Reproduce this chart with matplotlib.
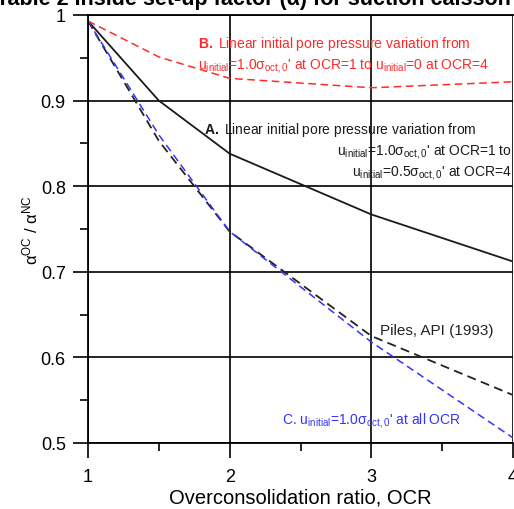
import numpy as np
import matplotlib
matplotlib.use("Agg")
import matplotlib.pyplot as plt

plt.rcParams['font.family'] = ['Liberation Sans', 'DejaVu Sans']
plt.rcParams['mathtext.fontset'] = 'custom'
plt.rcParams['mathtext.rm'] = 'Liberation Sans'
plt.rcParams['mathtext.it'] = 'Liberation Sans:italic'
plt.rcParams['mathtext.bf'] = 'Liberation Sans:bold'
plt.rcParams['mathtext.default'] = 'regular'

# data
ocr = [1, 1.5, 2, 3, 4]
case_a = [0.993, 0.900, 0.838, 0.767, 0.712]   # A, solid black
case_b = [0.993, 0.951, 0.926, 0.915, 0.922]   # B, red dashed
case_c = [0.993, 0.860, 0.747, 0.618, 0.506]   # C, blue dashed
piles_api = [0.993, 0.853, 0.747, 0.625, 0.556]  # API (1993), black dashed

fig = plt.figure(figsize=(5.14, 5.10), dpi=100)
ax = fig.add_axes([88/514, 1-444/510, 425/514, 428/510])

ax.plot(ocr, case_a, color='#1a1a1a', lw=1.3)
ax.plot(ocr, piles_api, color='#222222', lw=1.3, dashes=(5, 3))
ax.plot(ocr, case_c, color='#3333ff', lw=1.1, dashes=(5, 3))
ax.plot(ocr, case_b, color='#ff2a2a', lw=1.1, dashes=(5, 3))

ax.set_xlim(1, 4)
ax.set_ylim(0.5, 1)
ax.set_xticks([1, 2, 3, 4])
ax.set_xticks([1.5, 2.5, 3.5], minor=True)
ax.set_yticks([0.5, 0.6, 0.7, 0.8, 0.9, 1.0])
ax.set_yticklabels(['0.5', '0.6', '0.7', '0.8', '0.9', '1'])
ax.set_yticks([0.55, 0.65, 0.75, 0.85, 0.95], minor=True)
ax.grid(True, which='major', color='black', lw=1.2)
ax.tick_params(which='major', direction='out', length=11, width=1.2, labelsize=13, pad=5)
ax.tick_params(which='minor', direction='out', length=6, width=1.2)
ax.tick_params(axis='x', pad=7)
for s in ['left', 'bottom', 'top']:
    ax.spines[s].set_linewidth(1.3)
ax.spines['right'].set_visible(False)

ax.set_xlabel('Overconsolidation ratio, OCR', fontsize=14.5, labelpad=2)
ax.set_ylabel(r'$\alpha^{OC}$ / $\alpha^{NC}$', fontsize=12, labelpad=0)

fs = 10
ax.text(1.78, 0.967, r'$\mathbf{B.}$ Linear initial pore pressure variation from',
        color='#ff2a2a', fontsize=fs, va='center', clip_on=False)
ax.text(1.78, 0.942, r"u$_{initial}$=1.0σ$_{oct,0}$' at OCR=1 to u$_{initial}$=0 at OCR=4",
        color='#ff2a2a', fontsize=fs, va='center', clip_on=False)

ax.text(1.82, 0.867, r'$\mathbf{A.}$ Linear initial pore pressure variation from',
        color='#1a1a1a', fontsize=fs, va='center', clip_on=False)
ax.text(3.99, 0.841, r"u$_{initial}$=1.0σ$_{oct,0}$' at OCR=1 to",
        color='#1a1a1a', fontsize=fs, va='center', ha='right', clip_on=False)
ax.text(3.99, 0.817, r"u$_{initial}$=0.5σ$_{oct,0}$' at OCR=4",
        color='#1a1a1a', fontsize=fs, va='center', ha='right', clip_on=False)

ax.text(3.06, 0.632, 'Piles, API (1993)', color='#222222', fontsize=11,
        va='center', clip_on=False)
ax.text(2.37, 0.527, r"C. u$_{initial}$=1.0σ$_{oct,0}$' at all OCR",
        color='#3333ff', fontsize=fs, va='center', clip_on=False)

fig.text(-0.008, 1 - 5/510, 'Table 2 Inside set-up factor (α) for suction caisson',
         fontsize=15.5, fontweight='bold', va='baseline', ha='left')

fig.savefig('out.png', dpi=100)
